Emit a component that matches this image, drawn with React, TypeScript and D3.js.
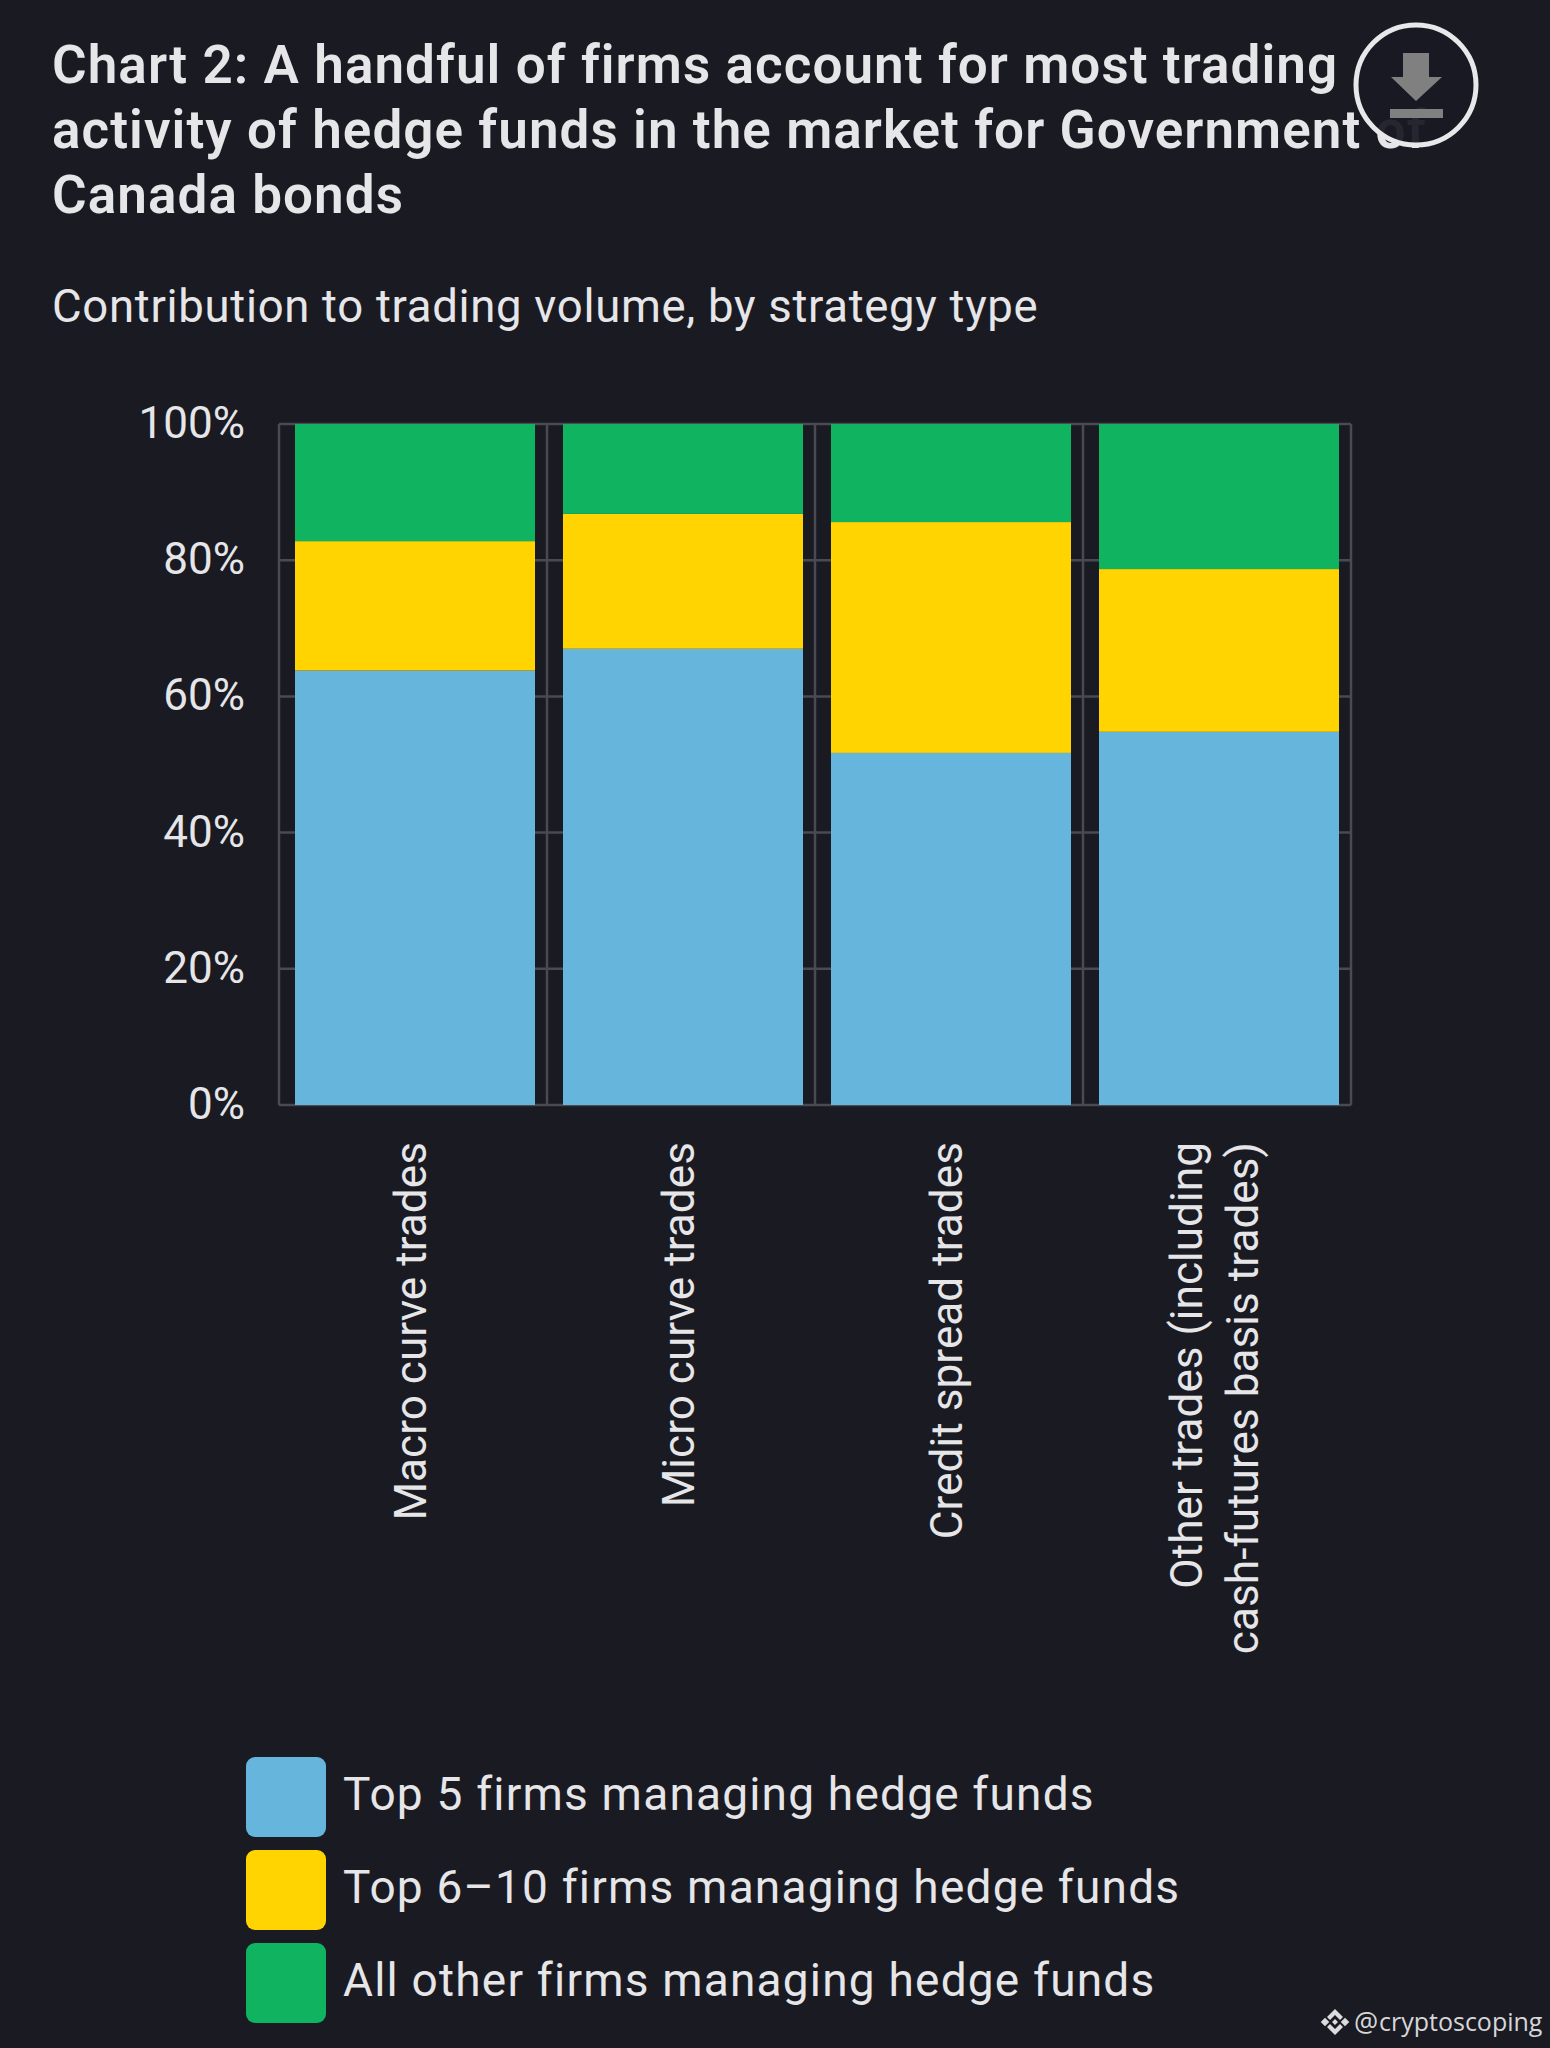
import React from "react";
import * as d3 from "d3";

const categories = ["Macro curve trades", "Micro curve trades", "Credit spread trades", "Other trades (including|cash-futures basis trades)"];
const seriesNames = ["Top 5 firms managing hedge funds", "Top 6–10 firms managing hedge funds", "All other firms managing hedge funds"];
const top5 = [63.8, 67, 51.7, 54.8];
const top6to10 = [19, 19.8, 33.9, 23.9];
const allOther = [17.2, 13.2, 14.4, 21.3];
const colors = ["#66b5dc", "#ffd400", "#10b35f"];
const yTicks = [0, 20, 40, 60, 80, 100];
const titleLines = ["Chart 2: A handful of firms account for most trading", "activity of hedge funds in the market for Government of", "Canada bonds"];
const subtitle = "Contribution to trading volume, by strategy type";

const BG = "#1a1a23";
const TXT = "#e6e6e8";
const FONT = "Roboto, sans-serif";

export default function App() {
  const L = 279, R = 1351, T = 424, B = 1105;
  const x = d3.scaleBand<number>().domain(d3.range(categories.length)).range([L, R]).paddingInner(0);
  const y = d3.scaleLinear().domain([0, 100]).range([B, T]);
  const rows = categories.map((c, i) => ({ i, a: top5[i], b: top6to10[i], c: allOther[i] }));
  const stacked = d3.stack<any>().keys(["a", "b", "c"])(rows);
  const barW = 240;
  return (
    <svg width={1550} height={2048} style={{ position: "fixed", left: 0, top: 0, background: BG }} fontFamily={FONT}>
      <rect width={1550} height={2048} fill={BG} />
      {titleLines.map((t, i) => (
        <text key={i} x={52} y={83 + i * 65} fontSize={53} fontWeight={600} letterSpacing={1.07} fill={TXT}>{t}</text>
      ))}
      <text x={52} y={322} fontSize={45.5} letterSpacing={0.7} fill={TXT}>{subtitle}</text>

      <circle cx={1416} cy={85} r={60} fill={BG} fillOpacity={0.94} stroke="#e8e8ea" strokeWidth={5} />
      <path d="M1403 53h26v24h13l-26 24-25-24h12z" fill="#808080" />
      <rect x={1390} y={109} width={53} height={9} fill="#808080" />

      <g stroke="#4a4a52" strokeWidth={2.5} fill="none">
        {yTicks.map(t => <line key={t} x1={L} x2={R} y1={y(t)} y2={y(t)} />)}
        <line x1={L} x2={L} y1={T} y2={B} />
        {categories.map((_, i) => <line key={i} x1={x(i)! + x.bandwidth()} x2={x(i)! + x.bandwidth()} y1={T} y2={B} />)}
      </g>
      {yTicks.map(t => (
        <text key={t} x={245} y={y(t) + 14} textAnchor="end" fontSize={44} fill={TXT}>{t}%</text>
      ))}
      {stacked.map((s, k) => s.map((d, i) => {
        const cx = x(i)! + x.bandwidth() / 2 + 2;
        return <rect key={k + "-" + i} x={cx - barW / 2} width={barW} y={y(d[1])} height={y(d[0]) - y(d[1])} fill={colors[k]} />;
      }))}
      {categories.map((c, i) => {
        const cx = x(i)! + x.bandwidth() / 2 - 2;
        const parts = c.split("|");
        return (
          <g key={i} transform={`translate(${cx},1142) rotate(-90)`}>
            {parts.map((p, j) => (
              <text key={j} x={0} y={(j - (parts.length - 1) / 2) * 56 + 15} textAnchor="end" fontSize={44.2} fill={TXT}>{p}</text>
            ))}
          </g>
        );
      })}
      {seriesNames.map((s, i) => (
        <g key={i}>
          <rect x={246} y={1757 + i * 93} width={80} height={80} rx={9} fill={colors[i]} />
          <text x={343} y={1810 + i * 93} fontSize={46} letterSpacing={1.2} fill={TXT}>{s}</text>
        </g>
      ))}
      <g fill="#dcdcdc" transform="translate(1335,2022)">
        {[[-10, 0], [10, 0]].map(([a, b], i) => (
          <rect key={i} x={a - 3} y={b - 3} width={6} height={6} transform={`rotate(45 ${a} ${b})`} />
        ))}
        <path d="M0-13 8-5 5-2 0-7-5-2-8-5zM0 13 8 5 5 2 0 7-5 2-8 5zM0-3 3 0 0 3-3 0z" />
      </g>
      <text x={1354} y={2032} fontSize={27} fontFamily="'Open Sans', sans-serif" fill="#d6d6d8">@</text>
      <text x={1379} y={2031} fontSize={25} fontFamily="'Open Sans', sans-serif" fill="#d6d6d8">cryptoscoping</text>
    </svg>
  );
}
